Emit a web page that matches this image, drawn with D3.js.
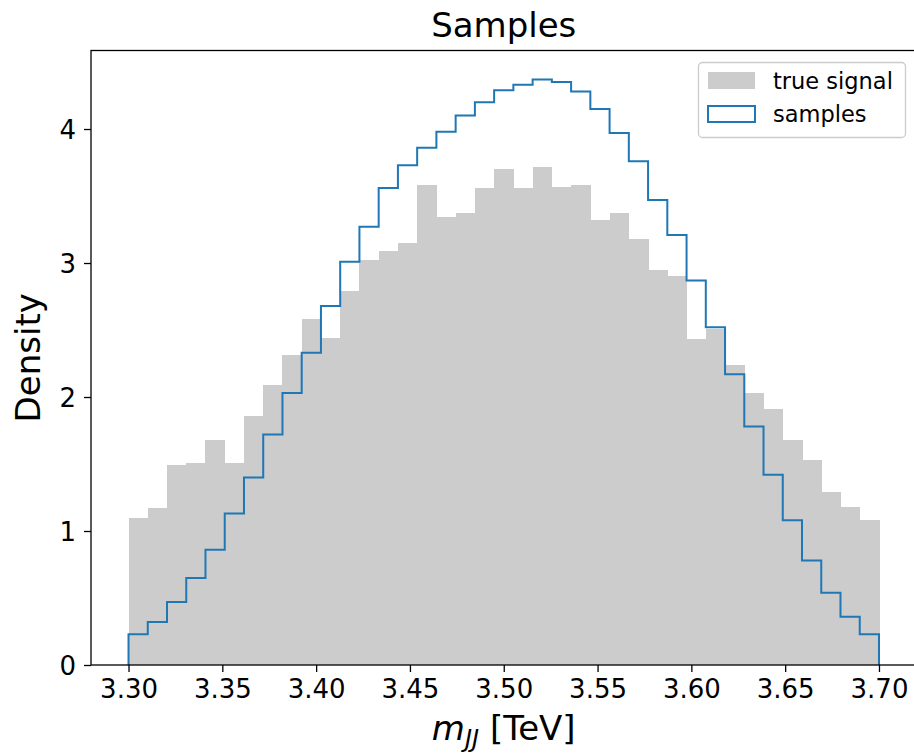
<!DOCTYPE html>
<html>
<head>
<meta charset="utf-8">
<script src="https://cdn.jsdelivr.net/npm/d3@7"></script>
<style>
  body { margin: 0; background: #fff; }
  svg { display: block; }
  text { font-family: "DejaVu Sans", sans-serif; fill: #000; }
</style>
</head>
<body>
<div id="chart"></div>
<script>
// histogram binning: 39 bins between 3.30 and 3.70
var binLo = 3.30;
var binHi = 3.70;
var nBins = 39;

// density of the true signal (gray bars)
var trueSignal = [1.10, 1.17, 1.49, 1.51, 1.68, 1.51, 1.86, 2.09, 2.31, 2.58,
                  2.44, 2.79, 3.02, 3.09, 3.15, 3.58, 3.34, 3.37, 3.56, 3.70,
                  3.56, 3.72, 3.57, 3.58, 3.32, 3.37, 3.18, 2.95, 2.90, 2.43,
                  2.51, 2.24, 2.03, 1.91, 1.68, 1.53, 1.29, 1.18, 1.08];

// density of the samples (blue step line)
var samples = [0.23, 0.32, 0.47, 0.65, 0.86, 1.13, 1.40, 1.72, 2.03, 2.33,
               2.68, 3.01, 3.27, 3.56, 3.73, 3.86, 3.98, 4.10, 4.20, 4.29,
               4.33, 4.37, 4.35, 4.28, 4.15, 3.97, 3.76, 3.47, 3.21, 2.87,
               2.52, 2.17, 1.78, 1.42, 1.08, 0.78, 0.54, 0.36, 0.23];

var xTicks = [3.30, 3.35, 3.40, 3.45, 3.50, 3.55, 3.60, 3.65, 3.70];
var yTicks = [0, 1, 2, 3, 4];
var legendLabels = ["true signal", "samples"];

var width = 914;
var height = 754;
var margin = {top: 50.5, right: -2.5, bottom: 89, left: 91};

var svg = d3.select('#chart')
    .append('svg')
    .attr('width', width)
    .attr('height', height);

var plotW = width - margin.left - margin.right;
var plotH = height - margin.top - margin.bottom;

var g = svg.append('g')
    .attr('transform', 'translate(' + margin.left + ',' + margin.top + ')');

var scaleX = d3.scaleLinear()
    .domain([3.28, 3.72])
    .range([0, plotW]);

var scaleY = d3.scaleLinear()
    .domain([0, 4.586])
    .range([plotH, 0]);

var binW = (binHi - binLo) / nBins;
var edges = d3.range(nBins + 1).map(function(i) { return binLo + i * binW; });

// gray bars
g.selectAll('rect.bar')
    .data(trueSignal)
    .enter()
    .append('rect')
    .attr('class', 'bar')
    .attr('x', function(d, i) { return scaleX(edges[i]); })
    .attr('width', function(d, i) { return scaleX(edges[i + 1]) - scaleX(edges[i]) + 0.6; })
    .attr('y', function(d) { return scaleY(d); })
    .attr('height', function(d) { return plotH - scaleY(d); })
    .attr('fill', '#cccccc')
    .attr('shape-rendering', 'crispEdges');

// blue step outline
var stepPts = [[edges[0], 0]];
samples.forEach(function(d, i) {
    stepPts.push([edges[i], d]);
    stepPts.push([edges[i + 1], d]);
});
stepPts.push([edges[nBins], 0]);

var line = d3.line()
    .x(function(p) { return scaleX(p[0]); })
    .y(function(p) { return scaleY(p[1]); });

g.append('path')
    .attr('d', line(stepPts))
    .attr('fill', 'none')
    .attr('stroke', '#1f77b4')
    .attr('stroke-width', 2)
    .attr('stroke-linejoin', 'miter');

// axes
var xAxis = d3.axisBottom(scaleX)
    .tickValues(xTicks)
    .tickFormat(d3.format('.2f'))
    .tickSize(7)
    .tickPadding(8)
    .tickSizeOuter(0);

var yAxis = d3.axisLeft(scaleY)
    .tickValues(yTicks)
    .tickFormat(d3.format('d'))
    .tickSize(7)
    .tickPadding(8)
    .tickSizeOuter(0);

var gx = g.append('g')
    .attr('transform', 'translate(0,' + plotH + ')')
    .call(xAxis);
var gy = g.append('g')
    .call(yAxis);

[gx, gy].forEach(function(ax) {
    ax.select('.domain').remove();
    ax.selectAll('line').attr('stroke', '#000').attr('stroke-width', 1.3);
    ax.selectAll('text')
        .style('font-family', '"DejaVu Sans", sans-serif')
        .style('font-size', '26px')
        .attr('fill', '#000');
});
gx.selectAll('text').attr('dy', '0.71em');
gy.selectAll('text').attr('dy', '0.36em');

// spines (frame)
g.append('rect')
    .attr('x', 0)
    .attr('y', 0)
    .attr('width', plotW)
    .attr('height', plotH)
    .attr('fill', 'none')
    .attr('stroke', '#000')
    .attr('stroke-width', 1.3);

// title
svg.append('text')
    .attr('x', margin.left + plotW / 2)
    .attr('y', 37)
    .attr('text-anchor', 'middle')
    .style('font-size', '34px')
    .text('Samples');

// y label
svg.append('text')
    .attr('transform', 'translate(40,' + (margin.top + plotH / 2) + ') rotate(-90)')
    .attr('text-anchor', 'middle')
    .style('font-size', '34px')
    .text('Density');

// x label with mathtext-like subscript
var xl = svg.append('text')
    .attr('x', margin.left + plotW / 2)
    .attr('y', 740)
    .attr('text-anchor', 'middle')
    .style('font-size', '34px');
xl.append('tspan').style('font-style', 'italic').text('m');
xl.append('tspan').style('font-style', 'italic').style('font-size', '24px').attr('dy', 7).text('JJ');
xl.append('tspan').attr('dy', -7).text(' [TeV]');

// legend
var lg = svg.append('g');
lg.append('rect')
    .attr('x', 698.5)
    .attr('y', 62.5)
    .attr('width', 207)
    .attr('height', 75)
    .attr('rx', 4)
    .attr('fill', '#fff')
    .attr('fill-opacity', 0.8)
    .attr('stroke', '#cccccc')
    .attr('stroke-width', 1.3);

lg.append('rect')
    .attr('x', 708)
    .attr('y', 72)
    .attr('width', 47)
    .attr('height', 17)
    .attr('fill', '#cccccc');

lg.append('rect')
    .attr('x', 708)
    .attr('y', 106)
    .attr('width', 47)
    .attr('height', 16)
    .attr('fill', 'none')
    .attr('stroke', '#1f77b4')
    .attr('stroke-width', 2);

lg.selectAll('text.leg')
    .data(legendLabels)
    .enter()
    .append('text')
    .attr('class', 'leg')
    .attr('x', 773)
    .attr('y', function(d, i) { return 89 + i * 33; })
    .style('font-size', '22.5px')
    .text(function(d) { return d; });
</script>
</body>
</html>
